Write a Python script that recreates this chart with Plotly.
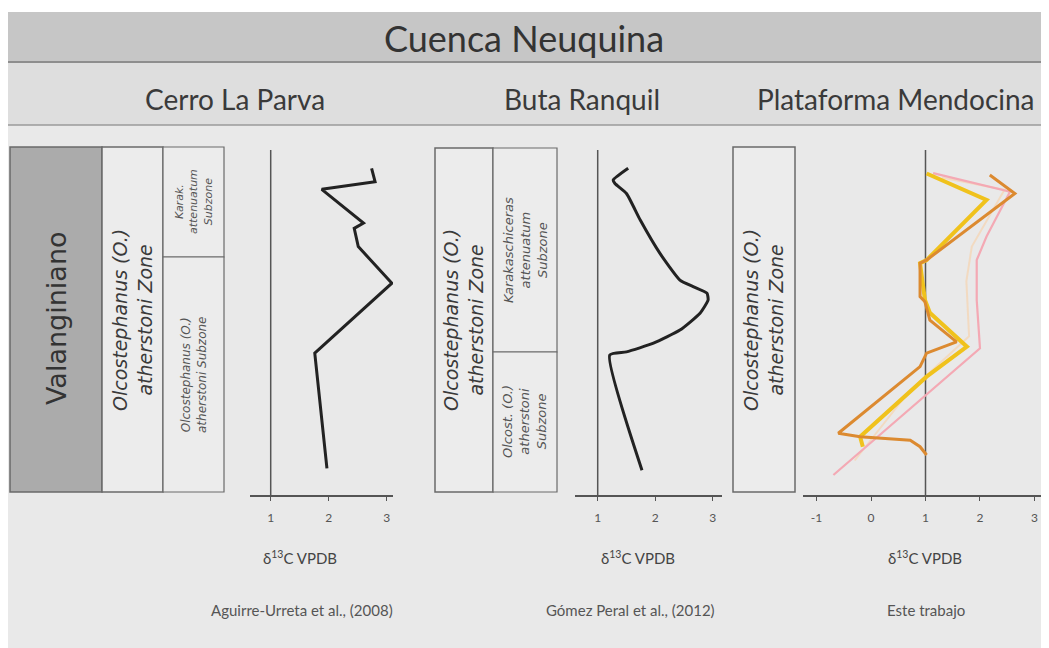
import plotly.graph_objects as go

# ---------------- data ----------------
cerro_d13c = [2.74, 2.80, 1.88, 2.60, 2.44, 2.51, 3.09, 1.76, 1.97]
cerro_height = [94.7, 90.8, 88.6, 78.8, 77.3, 72.0, 61.4, 41.1, 7.7]

buta_d13c = [1.53, 1.27, 1.30, 1.50, 1.74, 2.08, 2.43, 2.66, 2.90, 2.92, 2.78, 2.43, 1.97, 1.50, 1.21, 1.77]
buta_height = [94.7, 91.3, 90.3, 87.4, 79.7, 70.1, 62.3, 60.4, 58.5, 56.5, 52.7, 47.8, 44.0, 41.5, 40.6, 7.2]

mza_pink_d13c = [1.14, 2.55, 2.12, 1.94, 1.94, 2.00, -0.69]
mza_pink_height = [93.3, 87.9, 74.9, 68.1, 56.5, 42.5, 5.8]

mza_peach_d13c = [1.30, 2.45, 1.85, 1.75, 1.80, 0.70, -0.30]
mza_peach_height = [92.0, 88.5, 72.0, 62.0, 46.0, 30.0, 10.0]

mza_orange_d13c = [2.18, 2.64, 1.02, 0.90, 0.90, 0.99, 1.08, 1.57, 1.02, 0.90, -0.60, -0.20, 0.72, 0.90, 1.02]
mza_orange_height = [92.75, 87.4, 68.1, 67.2, 57.5, 56.0, 50.7, 44.4, 41.1, 37.2, 17.9, 16.9, 15.9, 14.0, 11.6]

mza_yellow_d13c = [1.02, 2.12, 1.02, 0.90, 0.99, 1.08, 1.76, 1.02, -0.20, -0.15]
mza_yellow_height = [93.2, 85.5, 68.1, 67.2, 56.5, 52.8, 43.0, 34.3, 16.9, 14.0]

ticks_a = [1, 2, 3]
ticks_c = [-1, 0, 1, 2, 3]
tick_labels_c = ["-1", "0", "1", "2", "3"]

title = "Cuenca Neuquina"
sections = ["Cerro La Parva", "Buta Ranquil", "Plataforma Mendocina"]
sources = ["Aguirre-Urreta et al., (2008)", "Gómez Peral et al., (2012)", "Este trabajo"]
axis_title = "δ<sup>13</sup>C VPDB"

# ---------------- helpers ----------------
W, H = 1049, 648
OFF = 8  # page body margin
def X(px):
    return (px - OFF) / W
def Y(py):
    return 1 - (py - OFF) / H

FONT = "Lato"
VFONT = "DejaVu Sans"
TXT = "#3a3a3a"
AX = "#555555"

fig = go.Figure()

fig.add_trace(go.Scatter(x=cerro_d13c, y=cerro_height, mode="lines",
                         line=dict(color="#222222", width=3), xaxis="x", yaxis="y", hoverinfo="skip"))
fig.add_trace(go.Scatter(x=buta_d13c, y=buta_height, mode="lines",
                         line=dict(color="#222222", width=3, shape="spline", smoothing=0.5),
                         xaxis="x2", yaxis="y2", hoverinfo="skip"))
fig.add_trace(go.Scatter(x=mza_peach_d13c, y=mza_peach_height, mode="lines",
                         line=dict(color="rgba(250,205,160,0.55)", width=2), xaxis="x3", yaxis="y3", hoverinfo="skip"))
fig.add_trace(go.Scatter(x=mza_pink_d13c, y=mza_pink_height, mode="lines",
                         line=dict(color="#f4a9b4", width=2.2), xaxis="x3", yaxis="y3", hoverinfo="skip"))
fig.add_trace(go.Scatter(x=mza_yellow_d13c, y=mza_yellow_height, mode="lines",
                         line=dict(color="#f0c21c", width=4), xaxis="x3", yaxis="y3", hoverinfo="skip"))
fig.add_trace(go.Scatter(x=mza_orange_d13c, y=mza_orange_height, mode="lines",
                         line=dict(color="#dc8a30", width=3), xaxis="x3", yaxis="y3", hoverinfo="skip"))

ydom = [Y(495), Y(150)]
def xax(dom, rng, tv, tt=None):
    d = dict(domain=dom, range=rng, showline=True, linecolor=AX, linewidth=1.5,
             ticks="outside", ticklen=4, tickcolor=AX, tickwidth=1.2,
             tickvals=tv, showgrid=False, zeroline=False, fixedrange=True,
             tickfont=dict(family=FONT, size=12, color="#555"), ticklabelstandoff=7)
    if tt is not None:
        d["ticktext"] = tt
    return d

fig.update_layout(
    width=W, height=H, margin=dict(l=0, r=0, t=0, b=0),
    paper_bgcolor="white", plot_bgcolor="rgba(0,0,0,0)", showlegend=False,
    xaxis=dict(**xax([X(250), X(393)], [0.643, 3.109], ticks_a), anchor="y"),
    yaxis=dict(domain=ydom, range=[0, 100], visible=False, anchor="x"),
    xaxis2=dict(**xax([X(575), X(722)], [0.605, 3.162], ticks_a), anchor="y2"),
    yaxis2=dict(domain=ydom, range=[0, 100], visible=False, anchor="x2"),
    xaxis3=dict(**xax([X(803), X(1042)], [-1.248, 3.138], ticks_c, tick_labels_c), anchor="y3"),
    yaxis3=dict(domain=ydom, range=[0, 100], visible=False, anchor="x3"),
)

shapes = []
def rect(x0, y0, x1, y1, fill, line=None, lw=0, layer="below"):
    shapes.append(dict(type="rect", xref="paper", yref="paper", x0=X(x0), x1=X(x1), y0=Y(y1), y1=Y(y0),
                       fillcolor=fill, line=dict(color=line or fill, width=lw), layer=layer))
def hline(x0, x1, y, color="#8a8a8a", w=1.5):
    shapes.append(dict(type="line", xref="paper", yref="paper", x0=X(x0), x1=X(x1), y0=Y(y), y1=Y(y),
                       line=dict(color=color, width=w), layer="below"))

# backgrounds
rect(8, 12, 1060, 660, "#e9e9e9")
rect(8, 12, 1060, 62, "#c6c6c6")
rect(8, 62, 1060, 125, "#dedede")
hline(8, 1060, 62, "#8e8e8e", 2)
hline(8, 1060, 125, "#9a9a9a", 1.5)

# stratigraphic columns
BOX = "#6a6a6a"
rect(10, 147, 102, 492, "#ababab", BOX, 1.5)
rect(102, 147, 163, 492, "#ececec", BOX, 1.5)
rect(163, 147, 224, 257, "#ececec", BOX, 1.2)
rect(163, 257, 224, 492, "#ececec", BOX, 1.2)

rect(435, 148, 493, 492, "#ececec", BOX, 1.5)
rect(493, 148, 557, 352, "#ececec", BOX, 1.2)
rect(493, 352, 557, 492, "#ececec", BOX, 1.2)

rect(733, 147, 795, 492, "#ececec", BOX, 1.5)

# vertical reference lines at d13C = 1
for xr, yr in (("x", "y"), ("x2", "y2"), ("x3", "y3")):
    shapes.append(dict(type="line", xref=xr, yref=yr, x0=1, x1=1, y0=0, y1=100,
                       line=dict(color=AX, width=1.5), layer="below"))

fig.update_layout(shapes=shapes)

ann = []
def text(px, py, s, size, color=TXT, angle=0, italic=False, family=FONT):
    if italic:
        s = "<i>" + s + "</i>"
    ann.append(dict(x=X(px), y=Y(py), xref="paper", yref="paper", text=s, showarrow=False,
                    textangle=angle, xanchor="center", yanchor="middle",
                    font=dict(family=family, size=size, color=color)))

text(524, 38, title, 36, "#333333")
text(235, 99, sections[0], 28)
text(582, 99, sections[1], 28)
text(896, 99, sections[2], 28)

text(56, 318, "Valanginiano", 27, "#333333", -90, family=VFONT)
text(133, 320, "Olcostephanus (O.)<br>atherstoni Zone", 19, TXT, -90, True, VFONT)
text(194, 202, "Karak.<br>attenuatum<br>Subzone", 11, "#555", -90, True, VFONT)
text(194, 375, "Olcostephanus (O.)<br>atherstoni Subzone", 12, "#555", -90, True, VFONT)

text(464, 320, "Olcostephanus (O.)<br>atherstoni Zone", 19, TXT, -90, True, VFONT)
text(525, 250, "Karakaschiceras<br>attenuatum<br>Subzone", 13, "#555", -90, True, VFONT)
text(525, 422, "Olcost. (O.)<br>atherstoni<br>Subzone", 13, "#555", -90, True, VFONT)

text(764, 320, "Olcostephanus (O.)<br>atherstoni Zone", 19, TXT, -90, True, VFONT)

text(300, 557, axis_title, 15, "#444")
text(638, 557, axis_title, 15, "#444")
text(925, 557, axis_title, 15, "#444")

text(302, 610, sources[0], 15, "#555")
text(630, 610, sources[1], 15, "#555")
text(926, 610, sources[2], 15, "#555")

fig.update_layout(annotations=ann)

fig.write_html("out.html")
